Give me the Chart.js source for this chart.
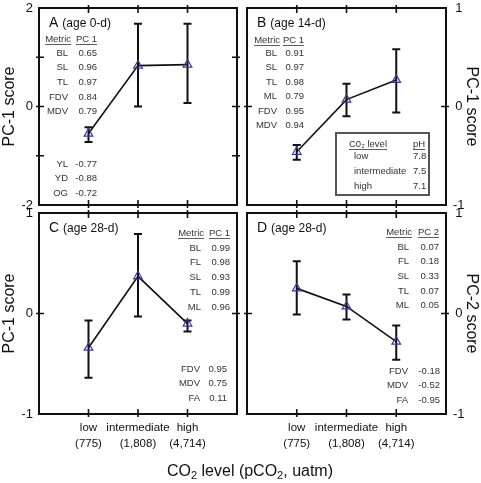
<!DOCTYPE html>
<html>
<head>
<meta charset="utf-8">
<script src="https://cdn.jsdelivr.net/npm/chart.js@4.4.0/dist/chart.umd.min.js"></script>
<style>
  html, body { margin: 0; padding: 0; background: #fff; }
  #wrap { position: relative; width: 481px; height: 483px; overflow: hidden; }
  #wrap canvas { position: absolute; left: 0; top: 0; }
  #xtitle {
    position: absolute; left: 0; top: 462px; width: 500px; line-height: 18px;
    text-align: center; font: 16px 'Liberation Sans', Arial, sans-serif; color: #111;
  }
  #xtitle sub { font-size: 11px; vertical-align: -3px; line-height: 0; }
</style>
</head>
<body>
<div id="wrap">
  <canvas id="panel-a" width="481" height="483"></canvas>
  <canvas id="panel-b" width="481" height="483"></canvas>
  <canvas id="panel-c" width="481" height="483"></canvas>
  <canvas id="panel-d" width="481" height="483"></canvas>
  <div id="xtitle">CO<sub>2</sub> level (pCO<sub>2</sub>, uatm)</div>
</div>
<script>
( function() {

  var levels = [ 'low', 'intermediate', 'high' ];
  var pco2 = [ '(775)', '(1,808)', '(4,714)' ];
  var xPos = [ 1, 2, 3 ];
  var phValues = [ '7.8', '7.5', '7.1' ];

  // A (age 0-d), PC-1
  var meanA = [ -0.55, 0.83, 0.85 ];
  var lowA = [ -0.72, 0.0, 0.07 ];
  var highA = [ -0.42, 1.68, 1.68 ];
  var yLabelsA = [ -2, 0, 2 ];
  var metricsA = [ 'BL', 'SL', 'TL', 'FDV', 'MDV' ];
  var loadA = [ '0.65', '0.96', '0.97', '0.84', '0.79' ];
  var metricsA2 = [ 'YL', 'YD', 'OG' ];
  var loadA2 = [ '-0.77', '-0.88', '-0.72' ];

  // B (age 14-d), PC-1
  var meanB = [ -0.46, 0.07, 0.27 ];
  var lowB = [ -0.54, -0.10, -0.06 ];
  var highB = [ -0.39, 0.23, 0.58 ];
  var yLabelsB = [ -1, 0, 1 ];
  var metricsB = [ 'BL', 'SL', 'TL', 'ML', 'FDV', 'MDV' ];
  var loadB = [ '0.91', '0.97', '0.98', '0.79', '0.95', '0.94' ];

  // C (age 28-d), PC-1
  var meanC = [ -0.34, 0.37, -0.10 ];
  var lowC = [ -0.64, -0.03, -0.18 ];
  var highC = [ -0.07, 0.79, -0.07 ];
  var yLabelsC = [ -1, 0, 1 ];
  var metricsC = [ 'BL', 'FL', 'SL', 'TL', 'ML' ];
  var loadC = [ '0.99', '0.98', '0.93', '0.99', '0.96' ];
  var metricsC2 = [ 'FDV', 'MDV', 'FA' ];
  var loadC2 = [ '0.95', '0.75', '0.11' ];

  // D (age 28-d), PC-2
  var meanD = [ 0.25, 0.07, -0.28 ];
  var lowD = [ -0.01, -0.06, -0.46 ];
  var highD = [ 0.52, 0.19, -0.12 ];
  var yLabelsD = [ -1, 0, 1 ];
  var metricsD = [ 'BL', 'FL', 'SL', 'TL', 'ML' ];
  var loadD = [ '0.07', '0.18', '0.33', '0.07', '0.05' ];
  var metricsD2 = [ 'FDV', 'MDV', 'FA' ];
  var loadD2 = [ '-0.18', '-0.52', '-0.95' ];

  var FONT = '"Liberation Sans", Arial, sans-serif';
  var W = 481, H = 483;

  var panels = [
    {
      id: 'panel-a', box: { left: 39, top: 8, right: 237, bottom: 205 },
      yMin: -2, yMax: 2, yLabels: yLabelsA, side: 'left', yTitle: 'PC-1 score', bottomAxis: false,
      mean: meanA, low: lowA, high: highA, letter: 'A', age: '(age 0-d)',
      tables: [
        { header: 'PC 1', names: metricsA, values: loadA, nameX: 29, valueX: 58, headY: 31, y: 45, step: 14.7 },
        { names: metricsA2, values: loadA2, nameX: 29, valueX: 58, y: 156, step: 14.5 }
      ]
    },
    {
      id: 'panel-b', box: { left: 247, top: 8, right: 446, bottom: 205 },
      yMin: -1, yMax: 1, yLabels: yLabelsB, side: 'right', yTitle: 'PC-1 score', bottomAxis: false,
      mean: meanB, low: lowB, high: highB, letter: 'B', age: '(age 14-d)',
      tables: [
        { header: 'PC 1', names: metricsB, values: loadB, nameX: 30, valueX: 57, headY: 32, y: 45.3, step: 14.4 }
      ],
      inset: { x: 89, y: 125, w: 93, h: 62 }
    },
    {
      id: 'panel-c', box: { left: 39, top: 213, right: 237, bottom: 414 },
      yMin: -1, yMax: 1, yLabels: yLabelsC, side: 'left', yTitle: 'PC-1 score', bottomAxis: true,
      mean: meanC, low: lowC, high: highC, letter: 'C', age: '(age 28-d)',
      tables: [
        { header: 'PC 1', names: metricsC, values: loadC, nameX: 162, valueX: 191, headY: 20, y: 35, step: 14.75 },
        { names: metricsC2, values: loadC2, nameX: 161, valueX: 188, y: 156, step: 14.5 }
      ]
    },
    {
      id: 'panel-d', box: { left: 247, top: 213, right: 446, bottom: 414 },
      yMin: -1, yMax: 1, yLabels: yLabelsD, side: 'right', yTitle: 'PC-2 score', bottomAxis: true,
      mean: meanD, low: lowD, high: highD, letter: 'D', age: '(age 28-d)',
      tables: [
        { header: 'PC 2', names: metricsD, values: loadD, nameX: 162, valueX: 192, headY: 19, y: 34, step: 14.7 },
        { names: metricsD2, values: loadD2, nameX: 161, valueX: 193, y: 158, step: 14.5 }
      ]
    }
  ];

  var underlined = function( ctx, text, x, y, align ) {
    ctx.textAlign = align;
    ctx.fillText( text, x, y );
    var w = ctx.measureText( text ).width;
    var x0 = align === 'right' ? x - w : x;
    ctx.beginPath();
    ctx.moveTo( x0, y + 5.5 );
    ctx.lineTo( x0 + w, y + 5.5 );
    ctx.stroke();
  };

  var decorPlugin = function( p ) {
    return {
      id: 'decor',
      beforeDatasetsDraw: function( chart ) {
        var ctx = chart.ctx, xs = chart.scales.x, ys = chart.scales.y;
        ctx.save();
        ctx.strokeStyle = '#111';
        ctx.lineWidth = 2;
        p.mean.forEach( function( m, i ) {
          var x = xs.getPixelForValue( xPos[ i ] );
          var yl = ys.getPixelForValue( p.low[ i ] );
          var yh = ys.getPixelForValue( p.high[ i ] );
          ctx.beginPath();
          ctx.moveTo( x, yl ); ctx.lineTo( x, yh );
          ctx.moveTo( x - 4, yl ); ctx.lineTo( x + 4, yl );
          ctx.moveTo( x - 4, yh ); ctx.lineTo( x + 4, yh );
          ctx.stroke();
        } );
        ctx.restore();
      },
      afterDraw: function( chart ) {
        var ctx = chart.ctx, a = chart.chartArea, xs = chart.scales.x, ys = chart.scales.y;
        ctx.save();

        // frame + ticks crossing the frame
        ctx.strokeStyle = '#111';
        ctx.lineWidth = 2;
        ctx.strokeRect( a.left, a.top, a.right - a.left, a.bottom - a.top );
        ctx.lineWidth = 1.6;
        ctx.beginPath();
        ys.ticks.forEach( function( t ) {
          var y = ys.getPixelForValue( t.value );
          if ( Math.abs( y - a.top ) < 2 || Math.abs( y - a.bottom ) < 2 ) return;
          ctx.moveTo( a.left - 3, y ); ctx.lineTo( a.left + 5, y );
          ctx.moveTo( a.right - 5, y ); ctx.lineTo( a.right + 3, y );
        } );
        xs.ticks.forEach( function( t ) {
          var x = xs.getPixelForValue( t.value );
          ctx.moveTo( x, a.top - 3 ); ctx.lineTo( x, a.top + 5 );
          ctx.moveTo( x, a.bottom - 5 ); ctx.lineTo( x, a.bottom + 3 );
        } );
        ctx.stroke();

        // panel letter
        ctx.fillStyle = '#111';
        ctx.textBaseline = 'middle';
        ctx.textAlign = 'left';
        ctx.font = '14px ' + FONT;
        ctx.fillText( p.letter, a.left + 10, a.top + 15 );
        var lw = ctx.measureText( p.letter ).width;
        ctx.font = '12px ' + FONT;
        ctx.fillText( p.age, a.left + 14 + lw, a.top + 15.5 );

        // loadings tables
        ctx.fillStyle = '#333';
        ctx.strokeStyle = '#333';
        ctx.lineWidth = 0.8;
        ctx.font = '9.5px ' + FONT;
        p.tables.forEach( function( t ) {
          if ( t.header ) {
            underlined( ctx, 'Metric', a.left + t.nameX + 3, a.top + t.headY, 'right' );
            underlined( ctx, t.header, a.left + t.valueX, a.top + t.headY, 'right' );
          }
          t.names.forEach( function( n, i ) {
            var y = a.top + t.y + i * t.step;
            ctx.textAlign = 'right';
            ctx.fillText( n, a.left + t.nameX, y );
            ctx.fillText( t.values[ i ], a.left + t.valueX, y );
          } );
        } );

        // CO2 / pH inset
        if ( p.inset ) {
          var bx = a.left + p.inset.x, by = a.top + p.inset.y;
          ctx.strokeStyle = '#555';
          ctx.lineWidth = 2;
          ctx.strokeRect( bx, by, p.inset.w, p.inset.h );
          ctx.strokeStyle = '#333';
          ctx.lineWidth = 0.8;
          underlined( ctx, 'C0\u2082 level', bx + 13, by + 11, 'left' );
          underlined( ctx, 'pH', bx + 77, by + 11, 'left' );
          levels.forEach( function( l, i ) {
            var y = by + 23 + i * 15;
            ctx.textAlign = 'left';
            ctx.fillText( l, bx + 18, y );
            ctx.fillText( phValues[ i ], bx + 77, y );
          } );
        }
        ctx.restore();
      }
    };
  };

  var createChart = function( p ) {

    var b = p.box;
    var left = p.side === 'left';
    var xHeight = p.bottomAxis ? 40 : 0;
    var yWidth = left ? b.left : W - b.right;

    var points = p.mean.map( function( m, i ) {
      return { x: xPos[ i ], y: m };
    } );

    var config = {
      type: 'line',
      data: {
        datasets: [ {
          data: points,
          borderColor: '#111',
          borderWidth: 1.6,
          tension: 0,
          pointStyle: 'triangle',
          pointRadius: 5,
          pointBorderWidth: 1.2,
          pointBorderColor: '#3a3a98',
          pointBackgroundColor: 'rgba(0,0,0,0)',
          clip: false
        } ]
      },
      options: {
        responsive: false,
        animation: false,
        devicePixelRatio: 1,
        layout: {
          padding: {
            left: left ? 0 : b.left,
            right: left ? W - b.right : 0,
            top: b.top,
            bottom: H - b.bottom - xHeight
          }
        },
        plugins: { legend: { display: false }, tooltip: { enabled: false } },
        scales: {
          x: {
            type: 'linear', min: 0, max: 4,
            grid: { display: false, drawTicks: false },
            border: { display: false },
            afterBuildTicks: function( s ) {
              s.ticks = xPos.map( function( v ) { return { value: v }; } );
            },
            afterFit: function( s ) {
              s.height = xHeight;
              s.paddingLeft = 0; s.paddingRight = 0;
            },
            ticks: {
              display: p.bottomAxis,
              padding: 6,
              maxRotation: 0,
              autoSkip: false,
              color: '#111',
              font: { family: FONT, size: 11.5, lineHeight: '16px' },
              callback: function( v ) {
                var i = xPos.indexOf( v );
                return i < 0 ? '' : [ levels[ i ], pco2[ i ] ];
              }
            }
          },
          y: {
            position: p.side,
            min: p.yMin, max: p.yMax,
            grid: { display: false, drawTicks: false },
            border: { display: false },
            afterFit: function( s ) {
              s.width = yWidth;
              s.paddingTop = 0; s.paddingBottom = 0;
            },
            title: {
              display: true,
              text: p.yTitle,
              color: '#111',
              padding: { top: 0, bottom: 0 },
              font: { family: FONT, size: 16, lineHeight: 1.2 }
            },
            ticks: {
              stepSize: 1,
              padding: left ? 6 : 7,
              crossAlign: left ? 'near' : 'center',
              color: '#111',
              font: { family: FONT, size: 13 },
              callback: function( v ) {
                return p.yLabels.indexOf( v ) < 0 ? '' : String( v );
              }
            }
          }
        }
      },
      plugins: [ decorPlugin( p ) ]
    };

    return new Chart( document.getElementById( p.id ), config );

  };

  panels.forEach( createChart );

} )();
</script>
</body>
</html>
